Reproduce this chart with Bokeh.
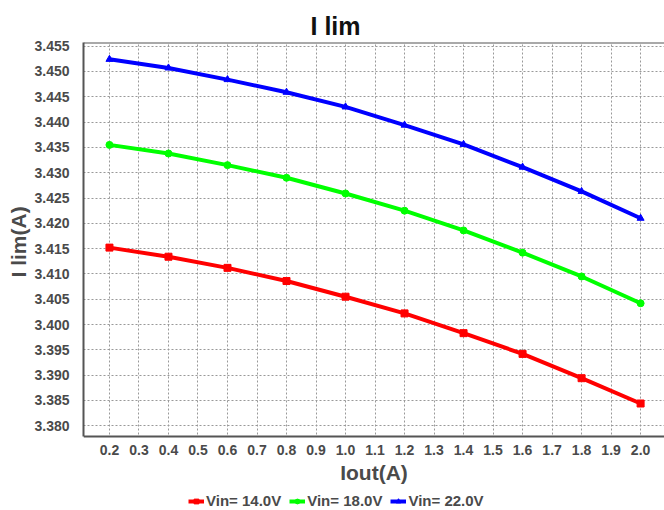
from bokeh.plotting import figure
from bokeh.models import (Range1d, FixedTicker, Legend, LegendItem, Span, Title, Label,
                          BoxAnnotation, CustomJSTickFormatter)
from bokeh.embed import file_html
from bokeh.resources import INLINE

iout = [0.2, 0.4, 0.6, 0.8, 1.0, 1.2, 1.4, 1.6, 1.8, 2.0]
vin14 = [3.4152, 3.4134, 3.4112, 3.4086, 3.4055, 3.4022, 3.3983, 3.3942, 3.3894, 3.3844]
vin18 = [3.4355, 3.4338, 3.4315, 3.4290, 3.4259, 3.4225, 3.4186, 3.4142, 3.4095, 3.4042]
vin22 = [3.4524, 3.4507, 3.4484, 3.4459, 3.4430, 3.4394, 3.4356, 3.4311, 3.4263, 3.4210]
labels = ["Vin= 14.0V", "Vin= 18.0V", "Vin= 22.0V"]
x_ticks = [0.2, 0.3, 0.4, 0.5, 0.6, 0.7, 0.8, 0.9, 1.0, 1.1, 1.2, 1.3, 1.4, 1.5, 1.6, 1.7, 1.8, 1.9, 2.0]
y_ticks = [3.380, 3.385, 3.390, 3.395, 3.400, 3.405, 3.410, 3.415, 3.420, 3.425,
           3.430, 3.435, 3.440, 3.445, 3.450, 3.455]

FONT = "Liberation Sans"
TXT = "#4a4a4a"

X0, X1 = 0.112, 2.081
Y0, Y1 = 3.37788, 3.45573
PLOT_H = 394
EXTRA = 74
Y_BOTTOM = Y0 - EXTRA * (Y1 - Y0) / PLOT_H

p = figure(frame_width=581, frame_height=PLOT_H + EXTRA, output_backend="svg", toolbar_location=None,
           x_range=Range1d(X0, X1), y_range=Range1d(Y_BOTTOM, Y1),
           min_border_left=83, min_border_right=0, min_border_top=42, min_border_bottom=0)
t = Title(text="I lim", align="left", text_font=FONT, text_font_size="25px",
          text_font_style="bold", text_color="#111111", offset=227, standoff=5)
p.add_layout(t, "above")

p.outline_line_color = None
p.background_fill_color = "white"
p.border_fill_color = "white"

for ax in (p.xaxis[0], p.yaxis[0]):
    ax.axis_line_color = "#555555"
    ax.axis_line_width = 2
    ax.major_tick_line_color = None
    ax.minor_tick_line_color = None
    ax.major_label_text_font = FONT
    ax.major_label_text_font_size = "14px"
    ax.major_label_text_font_style = "bold"
    ax.major_label_text_color = TXT

p.xaxis.ticker = FixedTicker(ticks=x_ticks)
p.yaxis.ticker = FixedTicker(ticks=y_ticks)
p.yaxis.formatter = CustomJSTickFormatter(code="return tick.toFixed(3);")
p.xaxis.formatter = CustomJSTickFormatter(code="return tick.toFixed(1);")
p.xaxis.fixed_location = Y0
p.xaxis.axis_label = None
p.yaxis.axis_label = None
p.yaxis.bounds = (Y0, Y1)
p.xaxis.major_label_standoff = 2
p.yaxis.major_label_standoff = 8

ylab = Title(text="I lim(A)", align="left", offset=233, text_font=FONT, text_font_size="21px",
             text_font_style="bold", text_color=TXT, standoff=4)
p.add_layout(ylab, "left")

xlab = Label(x=(X0 + X1) / 2, y=38, y_units="screen", text="Iout(A)", text_align="center",
             text_baseline="middle", text_font=FONT, text_font_size="21px",
             text_font_style="bold", text_color=TXT)
p.add_layout(xlab)

for g in (p.xgrid[0], p.ygrid[0]):
    g.grid_line_color = "#999999"
    g.grid_line_dash = "2 2"
    g.grid_line_width = 1

# hide grid below the data area (the legend/axis strip)
p.add_layout(BoxAnnotation(bottom=Y_BOTTOM, top=Y0, fill_color="white", fill_alpha=1,
                           line_color=None, level="underlay"))
p.add_layout(Span(location=Y1, dimension="width", line_color="#555555", line_width=2))

colors = ["#ff0000", "#00ff00", "#0000ff"]
series = [vin14, vin18, vin22]
markers = ["square", "circle", "triangle"]
items = []
for ys, c, m, lab in zip(series, colors, markers, labels):
    r1 = p.line(iout, ys, line_color=c, line_width=4)
    r2 = p.scatter(iout, ys, marker=m, size=7, color=c)
    items.append(LegendItem(label=lab, renderers=[r1, r2]))

leg = Legend(items=items, orientation="horizontal", location=(105, 1),
             label_text_font=FONT, label_text_font_size="15px", label_text_font_style="bold",
             label_text_color=TXT, glyph_width=16, glyph_height=12, label_standoff=2,
             spacing=8, padding=0, margin=0, border_line_color=None, background_fill_alpha=0,
             label_height=14)
p.add_layout(leg, "center")

open("out.html", "w").write(file_html(p, INLINE))
